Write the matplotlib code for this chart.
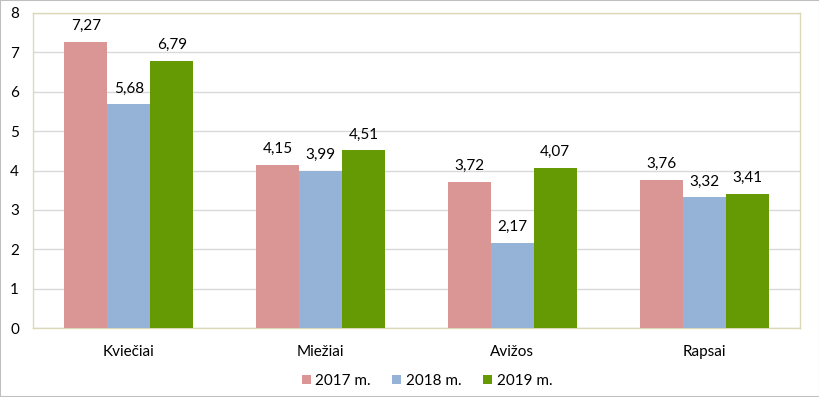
import numpy as np
import matplotlib.pyplot as plt
from matplotlib.patches import Rectangle

categories = ['Kviečiai', 'Miežiai', 'Avižos', 'Rapsai']
series_names = ['2017 m.', '2018 m.', '2019 m.']
v2017 = [7.27, 4.15, 3.72, 3.76]
v2018 = [5.68, 3.99, 2.17, 3.32]
v2019 = [6.79, 4.51, 4.07, 3.41]
colors = ['#d99694', '#95b3d7', '#669a04']

plt.rcParams['font.family'] = ['Lato', 'DejaVu Sans']

fig = plt.figure(figsize=(8.2, 3.97), dpi=100)
ax = fig.add_axes([33/820, 1 - 328/397, (800-33)/820, (328-13)/397])

x = np.arange(len(categories))
w = 0.224
for i, (vals, c, name) in enumerate(zip([v2017, v2018, v2019], colors, series_names)):
    bars = ax.bar(x + (i - 1) * w, vals, w, color=c, label=name, zorder=3)
    for b, v in zip(bars, vals):
        ax.text(b.get_x() + b.get_width() / 2, v + 0.22, f'{v:.2f}'.replace('.', ','),
                ha='center', va='bottom', fontsize=11, color='#000000')

ax.set_xlim(-0.5, 3.5)
ax.set_ylim(0, 8)
ax.set_yticks(range(9))
ax.set_xticks(x)
ax.set_xticklabels(categories)
ax.tick_params(axis='both', length=0, labelsize=11, colors='#000000')
ax.tick_params(axis='y', pad=10)
ax.tick_params(axis='x', pad=12)
ax.grid(axis='y', color='#d9d9d9', linewidth=1, zorder=0)
for s in ax.spines.values():
    s.set_color('#ddd8b8')
    s.set_linewidth(1)

ax.legend(loc='center', bbox_to_anchor=(427/820, 1 - 381/397), bbox_transform=fig.transFigure,
          ncol=3, frameon=False, fontsize=11, handlelength=0.6, handleheight=0.6,
          handletextpad=0.3, columnspacing=1.4)

fig.patches.append(Rectangle((0, 0), 1, 1, transform=fig.transFigure, fill=False,
                             edgecolor='#bfbfbf', linewidth=1.5))

fig.savefig('out.png', dpi=100)
